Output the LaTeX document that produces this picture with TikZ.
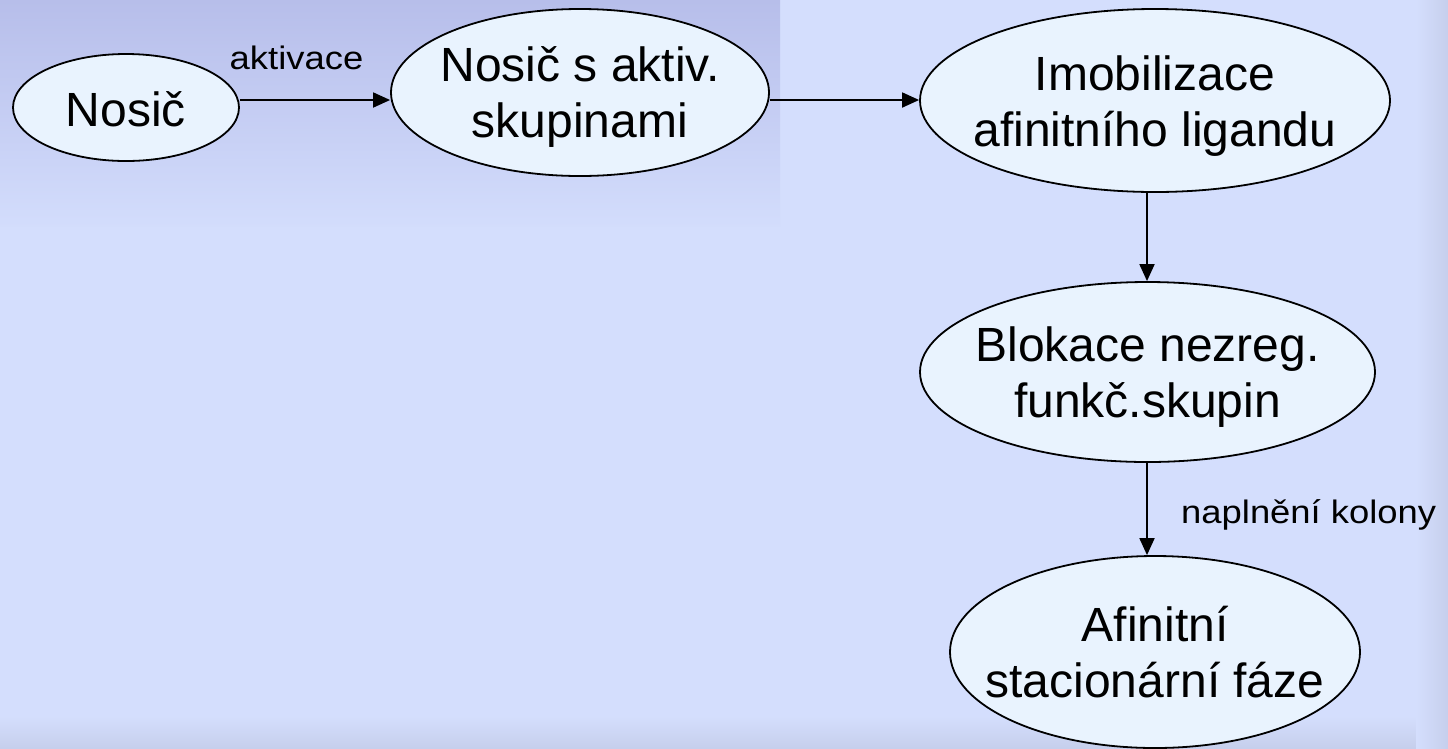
\documentclass[tikz,border=0pt]{standalone}
\usepackage{fontspec}
\setmainfont{Liberation Sans}
\newfontfamily\edgefont[FakeStretch=1.12]{Liberation Sans}
\usetikzlibrary{arrows.meta,shapes.geometric}

\definecolor{slide}{HTML}{D4DEFD}
\definecolor{slidetop}{HTML}{B7BEEA}
\definecolor{slideedge}{HTML}{C6CFEC}
\definecolor{bubble}{HTML}{E9F3FE}

\begin{document}
\begin{tikzpicture}[x=1pt,y=-1pt,
  stage/.style={ellipse, draw=black, line width=1.8pt, fill=bubble, inner sep=0pt},
  stagetext/.style={align=center, font=\fontsize{48}{56}\selectfont, inner sep=0pt},
  edgetext/.style={font=\edgefont\fontsize{32.5}{39}\selectfont, inner sep=0pt},
  flow/.style={line width=1.8pt, -{Triangle[length=17pt,width=15pt]}}]

  % slide background
  \useasboundingbox (0,0) rectangle (1448,748);
  \fill[slide] (0,0) rectangle (1448,748);
  \shade[top color=slidetop, bottom color=slide!96!slidetop] (0,0) rectangle (780,226);
  \shade[top color=slide, bottom color=slideedge] (0,716) rectangle (1448,748);
  \shade[left color=slide, right color=slideedge] (1416,0) rectangle (1448,748);

  % process stages
  \node[stage, minimum width=226pt, minimum height=107pt] (nosic) at (126,107.5) {};
  \node[stage, minimum width=378pt, minimum height=167pt] (aktiv) at (580,92.5) {};
  \node[stage, minimum width=470pt, minimum height=183pt] (imob)  at (1155,100.5) {};
  \node[stage, minimum width=455pt, minimum height=180pt] (blok)  at (1147.5,372) {};
  \node[stage, minimum width=410pt, minimum height=192pt] (faze)  at (1155,652) {};

  \node[stagetext] (nosic-t) at ([yshift=-2pt]nosic.center) {Nosič};
  \node[stagetext] (aktiv-t) at ([yshift=-5pt]aktiv.center) {Nosič s aktiv.\\skupinami};
  \node[stagetext] (imob-t)  at ([yshift=-6pt]imob.center)  {Imobilizace\\afinitního ligandu};
  \node[stagetext] (blok-t)  at ([yshift=-5pt]blok.center)  {Blokace nezreg.\\funkč.skupin};
  \node[stagetext] (faze-t)  at (faze.center) {Afinitní\\stacionární fáze};

  % connector guide lines
  \coordinate (row) at (0,100);
  \coordinate (col) at (1147,0);

  \draw[flow] (nosic.east |- row) -- (aktiv.west |- row);
  \draw[flow] (aktiv.east |- row) -- (imob.west |- row);
  \draw[flow] (imob.south -| col) -- (blok.north -| col);
  \draw[flow] (blok.south -| col) -- (faze.north -| col);

  % connector labels
  \node[edgetext, anchor=base] (aktivace) at (296.5,69.5) {aktivace};
  \node[edgetext, anchor=base west] (naplneni) at (1181,523) {naplnění kolony};
\end{tikzpicture}
\end{document}
